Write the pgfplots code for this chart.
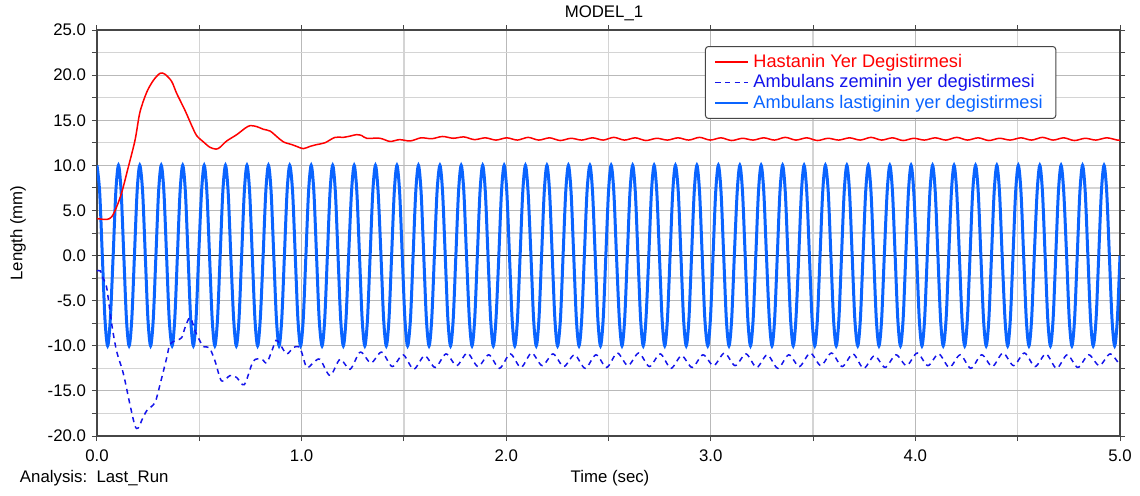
\documentclass[border=0pt]{standalone}
\usepackage{fontspec}
\setmainfont{Liberation Sans}
\usepackage{pgfplots}
\pgfplotsset{compat=1.18}

\definecolor{redline}{RGB}{255,0,0}
\definecolor{ground}{RGB}{20,20,235}
\definecolor{tyre}{RGB}{10,100,255}
\definecolor{gridgray}{RGB}{212,212,212}
\definecolor{framegray}{RGB}{70,70,70}

\begin{document}
\begin{tikzpicture}
\fontsize{8.4}{10}\selectfont
\path[use as bounding box] (-48.5pt,-29.5pt) rectangle (521.5pt,218pt);
\begin{axis}[
  scale only axis, width=511.5pt, height=203pt,
  at={(0pt,0pt)}, anchor=south west,
  xmin=0, xmax=5, ymin=-20, ymax=25,
  xtick={0,1,2,3,4,5}, minor xtick={0.5,1.5,2.5,3.5,4.5},
  ytick={-20,-15,...,25}, minor ytick={-17.5,-12.5,-7.5,-2.5,2.5,7.5,12.5,17.5,22.5},
  tick align=outside, major tick length=2.5pt, minor tick length=2.5pt,
  tick style={framegray, line width=0.5pt},
  grid=both,
  major grid style={gray!55, line width=0.5pt},
  minor grid style={gridgray, line width=0.7pt},
  extra y ticks={0}, extra y tick labels={},
  extra y tick style={grid=major, major grid style={black!80, line width=0.6pt}},
  axis line style={framegray, line width=0.6pt},
  /pgf/number format/assume math mode=true,
  /pgf/number format/fixed,
  /pgf/number format/fixed zerofill,
  /pgf/number format/precision=1,
  x tick label style={yshift=-1.2pt},
  tick label style={font=\fontsize{8.4}{10}\selectfont},
  legend style={at={(0.5943,0.9606)}, anchor=north west, draw=framegray,
    rounded corners=1.5pt, line width=0.5pt, font=\fontsize{9.1}{10}\selectfont,
    inner xsep=4.5pt, inner ysep=1.8pt, row sep=-1.6pt},
  legend cell align=left,
  legend image code/.code={\draw[#1] (0pt,0pt) -- (16.5pt,0pt);},
]
% tyre (solid blue), drawn first
\addplot[tyre, line width=1.5pt, smooth, tension=0.5, forget plot] coordinates {
(0,10)(0.013,7.07)(0.026,0)(0.039,-7.07)(0.052,-10)(0.065,-7.07)(0.079,0)(0.092,7.07)
(0.105,10)(0.118,7.07)(0.131,0)(0.144,-7.07)(0.157,-10)(0.170,-7.07)(0.183,0)(0.196,7.07)
(0.209,10)(0.223,7.07)(0.236,0)(0.249,-7.07)(0.262,-10)(0.275,-7.07)(0.288,0)(0.301,7.07)
(0.314,10)(0.327,7.07)(0.340,0)(0.353,-7.07)(0.367,-10)(0.380,-7.07)(0.393,0)(0.406,7.07)
(0.419,10)(0.432,7.07)(0.445,0)(0.458,-7.07)(0.471,-10)(0.484,-7.07)(0.497,0)(0.511,7.07)
(0.524,10)(0.537,7.07)(0.550,0)(0.563,-7.07)(0.576,-10)(0.589,-7.07)(0.602,0)(0.615,7.07)
(0.628,10)(0.641,7.07)(0.654,0)(0.668,-7.07)(0.681,-10)(0.694,-7.07)(0.707,0)(0.720,7.07)
(0.733,10)(0.746,7.07)(0.759,0)(0.772,-7.07)(0.785,-10)(0.798,-7.07)(0.812,0)(0.825,7.07)
(0.838,10)(0.851,7.07)(0.864,0)(0.877,-7.07)(0.890,-10)(0.903,-7.07)(0.916,0)(0.929,7.07)
(0.942,10)(0.956,7.07)(0.969,0)(0.982,-7.07)(0.995,-10)(1.008,-7.07)(1.021,0)(1.034,7.07)
(1.047,10)(1.060,7.07)(1.073,0)(1.086,-7.07)(1.100,-10)(1.113,-7.07)(1.126,0)(1.139,7.07)
(1.152,10)(1.165,7.07)(1.178,0)(1.191,-7.07)(1.204,-10)(1.217,-7.07)(1.230,0)(1.244,7.07)
(1.257,10)(1.270,7.07)(1.283,0)(1.296,-7.07)(1.309,-10)(1.322,-7.07)(1.335,0)(1.348,7.07)
(1.361,10)(1.374,7.07)(1.388,0)(1.401,-7.07)(1.414,-10)(1.427,-7.07)(1.440,0)(1.453,7.07)
(1.466,10)(1.479,7.07)(1.492,0)(1.505,-7.07)(1.518,-10)(1.532,-7.07)(1.545,0)(1.558,7.07)
(1.571,10)(1.584,7.07)(1.597,0)(1.610,-7.07)(1.623,-10)(1.636,-7.07)(1.649,0)(1.662,7.07)
(1.676,10)(1.689,7.07)(1.702,0)(1.715,-7.07)(1.728,-10)(1.741,-7.07)(1.754,0)(1.767,7.07)
(1.780,10)(1.793,7.07)(1.806,0)(1.820,-7.07)(1.833,-10)(1.846,-7.07)(1.859,0)(1.872,7.07)
(1.885,10)(1.898,7.07)(1.911,0)(1.924,-7.07)(1.937,-10)(1.950,-7.07)(1.964,0)(1.977,7.07)
(1.990,10)(2.003,7.07)(2.016,0)(2.029,-7.07)(2.042,-10)(2.055,-7.07)(2.068,0)(2.081,7.07)
(2.094,10)(2.107,7.07)(2.121,0)(2.134,-7.07)(2.147,-10)(2.160,-7.07)(2.173,0)(2.186,7.07)
(2.199,10)(2.212,7.07)(2.225,0)(2.238,-7.07)(2.251,-10)(2.265,-7.07)(2.278,0)(2.291,7.07)
(2.304,10)(2.317,7.07)(2.330,0)(2.343,-7.07)(2.356,-10)(2.369,-7.07)(2.382,0)(2.395,7.07)
(2.409,10)(2.422,7.07)(2.435,0)(2.448,-7.07)(2.461,-10)(2.474,-7.07)(2.487,0)(2.500,7.07)
(2.513,10)(2.526,7.07)(2.539,0)(2.553,-7.07)(2.566,-10)(2.579,-7.07)(2.592,0)(2.605,7.07)
(2.618,10)(2.631,7.07)(2.644,0)(2.657,-7.07)(2.670,-10)(2.683,-7.07)(2.697,0)(2.710,7.07)
(2.723,10)(2.736,7.07)(2.749,0)(2.762,-7.07)(2.775,-10)(2.788,-7.07)(2.801,0)(2.814,7.07)
(2.827,10)(2.841,7.07)(2.854,0)(2.867,-7.07)(2.880,-10)(2.893,-7.07)(2.906,0)(2.919,7.07)
(2.932,10)(2.945,7.07)(2.958,0)(2.971,-7.07)(2.985,-10)(2.998,-7.07)(3.011,0)(3.024,7.07)
(3.037,10)(3.050,7.07)(3.063,0)(3.076,-7.07)(3.089,-10)(3.102,-7.07)(3.115,0)(3.129,7.07)
(3.142,10)(3.155,7.07)(3.168,0)(3.181,-7.07)(3.194,-10)(3.207,-7.07)(3.220,0)(3.233,7.07)
(3.246,10)(3.259,7.07)(3.272,0)(3.286,-7.07)(3.299,-10)(3.312,-7.07)(3.325,0)(3.338,7.07)
(3.351,10)(3.364,7.07)(3.377,0)(3.390,-7.07)(3.403,-10)(3.416,-7.07)(3.430,0)(3.443,7.07)
(3.456,10)(3.469,7.07)(3.482,0)(3.495,-7.07)(3.508,-10)(3.521,-7.07)(3.534,0)(3.547,7.07)
(3.560,10)(3.574,7.07)(3.587,0)(3.600,-7.07)(3.613,-10)(3.626,-7.07)(3.639,0)(3.652,7.07)
(3.665,10)(3.678,7.07)(3.691,0)(3.704,-7.07)(3.718,-10)(3.731,-7.07)(3.744,0)(3.757,7.07)
(3.770,10)(3.783,7.07)(3.796,0)(3.809,-7.07)(3.822,-10)(3.835,-7.07)(3.848,0)(3.862,7.07)
(3.875,10)(3.888,7.07)(3.901,0)(3.914,-7.07)(3.927,-10)(3.940,-7.07)(3.953,0)(3.966,7.07)
(3.979,10)(3.992,7.07)(4.006,0)(4.019,-7.07)(4.032,-10)(4.045,-7.07)(4.058,0)(4.071,7.07)
(4.084,10)(4.097,7.07)(4.110,0)(4.123,-7.07)(4.136,-10)(4.150,-7.07)(4.163,0)(4.176,7.07)
(4.189,10)(4.202,7.07)(4.215,0)(4.228,-7.07)(4.241,-10)(4.254,-7.07)(4.267,0)(4.280,7.07)
(4.294,10)(4.307,7.07)(4.320,0)(4.333,-7.07)(4.346,-10)(4.359,-7.07)(4.372,0)(4.385,7.07)
(4.398,10)(4.411,7.07)(4.424,0)(4.438,-7.07)(4.451,-10)(4.464,-7.07)(4.477,0)(4.490,7.07)
(4.503,10)(4.516,7.07)(4.529,0)(4.542,-7.07)(4.555,-10)(4.568,-7.07)(4.581,0)(4.595,7.07)
(4.608,10)(4.621,7.07)(4.634,0)(4.647,-7.07)(4.660,-10)(4.673,-7.07)(4.686,0)(4.699,7.07)
(4.712,10)(4.725,7.07)(4.739,0)(4.752,-7.07)(4.765,-10)(4.778,-7.07)(4.791,0)(4.804,7.07)
(4.817,10)(4.830,7.07)(4.843,0)(4.856,-7.07)(4.869,-10)(4.883,-7.07)(4.896,0)(4.909,7.07)
(4.922,10)(4.935,7.07)(4.948,0)(4.961,-7.07)(4.974,-10)(4.987,-7.07)(5.000,0)
};
% patient displacement (red)
\addplot[redline, line width=0.75pt, smooth, tension=0.5] coordinates {
(0,4.1)(0.047,4.0)(0.072,4.3)(0.096,5.4)(0.121,7.0)(0.153,9.8)(0.186,12.8)(0.210,15.9)
(0.243,18.1)(0.275,19.4)(0.308,20.2)(0.332,20.1)(0.365,19.3)(0.389,18.0)(0.430,16.1)
(0.463,14.4)(0.487,13.3)(0.520,12.6)(0.552,12.0)(0.582,11.8)(0.601,12.0)(0.634,12.7)
(0.683,13.4)(0.723,14.1)(0.748,14.4)(0.780,14.3)(0.813,14.0)(0.846,13.8)(0.878,13.2)
(0.911,12.6)(0.952,12.3)(0.976,12.1)(1.008,11.85)(1.041,12.1)(1.074,12.3)(1.114,12.5)
(1.163,13.1)(1.204,13.1)(1.229,13.2)(1.269,13.4)(1.294,13.3)(1.318,13.0)(1.383,13.0)
(1.432,12.65)(1.479,12.85)(1.531,12.7)(1.584,13.05)(1.636,12.95)(1.689,13.2)(1.741,13.0)
(1.793,13.15)(1.845,12.85)(1.898,13.05)(1.950,12.8)(2.003,13.05)(2.055,12.8)(2.107,13.1)
(2.159,12.8)(2.212,13.05)(2.264,12.75)(2.317,13.0)(2.369,12.8)(2.422,13.05)(2.474,12.8)
(2.526,13.1)(2.578,12.8)(2.631,13.05)(2.683,12.75)(2.736,13.0)(2.788,12.8)(2.840,13.05)
(2.892,12.8)(2.945,13.1)(2.997,12.8)(3.050,13.05)(3.102,12.75)(3.155,13.0)(3.207,12.8)
(3.259,13.05)(3.311,12.8)(3.364,13.1)(3.416,12.8)(3.469,13.05)(3.521,12.75)(3.573,13.0)
(3.625,12.8)(3.678,13.05)(3.730,12.8)(3.783,13.1)(3.835,12.8)(3.888,13.05)(3.940,12.75)
(3.992,13.0)(4.044,12.8)(4.097,13.05)(4.149,12.8)(4.202,13.1)(4.254,12.8)(4.307,13.05)
(4.359,12.75)(4.411,13.0)(4.463,12.8)(4.516,13.05)(4.568,12.8)(4.621,13.1)(4.673,12.8)
(4.725,13.05)(4.777,12.75)(4.830,13.0)(4.882,12.8)(4.935,13.05)(4.987,12.8)(5.000,12.82)
};
\addlegendentry{\textcolor{redline}{Hastanin Yer Degistirmesi}}
% ambulance floor displacement (dashed)
\addplot[ground, line width=0.75pt, dash pattern=on 2.6pt off 2.2pt, smooth, tension=0.5] coordinates {
(0,-1.7)(0.016,-1.7)(0.031,-2.6)(0.047,-3.5)(0.072,-7.6)(0.096,-10.6)(0.129,-13.1)
(0.161,-16.5)(0.186,-18.9)(0.202,-19.1)(0.218,-18.3)(0.243,-17.2)(0.283,-16.3)(0.308,-14.3)
(0.341,-11.3)(0.357,-9.8)(0.389,-9.4)(0.414,-9.1)(0.430,-8.0)(0.451,-6.9)(0.463,-7.2)
(0.479,-8.3)(0.495,-9.1)(0.520,-10.1)(0.549,-10.2)(0.577,-11.7)(0.609,-13.9)(0.650,-13.3)
(0.682,-13.5)(0.720,-14.3)(0.764,-11.7)(0.805,-11.5)(0.829,-11.9)(0.854,-10.6)(0.875,-9.4)
(0.894,-9.8)(0.927,-10.9)(0.959,-10.2)(0.984,-10.1)(1.000,-10.7)(1.025,-12.4)(1.057,-11.9)
(1.090,-11.5)(1.139,-13.3)(1.188,-11.5)(1.237,-12.6)(1.287,-10.7)(1.339,-11.9)
(1.391,-10.7)(1.443,-12.3)(1.496,-11.0)(1.548,-12.6)(1.601,-11.1)(1.653,-12.4)
(1.706,-10.9)(1.758,-12.2)(1.810,-10.8)(1.862,-12.3)(1.915,-11.0)(1.967,-12.5)
(2.020,-10.9)(2.072,-12.4)(2.124,-10.8)(2.176,-12.2)(2.229,-10.9)(2.281,-12.3)
(2.334,-11.0)(2.386,-12.5)(2.439,-11.0)(2.491,-12.4)(2.543,-10.8)(2.595,-12.2)
(2.648,-10.8)(2.700,-12.3)(2.753,-10.9)(2.805,-12.5)(2.857,-11.1)(2.909,-12.4)
(2.962,-11.0)(3.014,-12.2)(3.067,-10.8)(3.119,-12.2)(3.172,-10.9)(3.224,-12.4)
(3.276,-11.0)(3.328,-12.5)(3.381,-11.0)(3.433,-12.3)(3.486,-10.8)(3.538,-12.2)
(3.590,-10.8)(3.642,-12.3)(3.695,-10.9)(3.747,-12.5)(3.800,-11.1)(3.852,-12.4)
(3.905,-11.0)(3.957,-12.2)(4.009,-10.8)(4.061,-12.2)(4.114,-10.9)(4.166,-12.4)
(4.219,-11.0)(4.271,-12.5)(4.324,-11.0)(4.376,-12.3)(4.428,-10.8)(4.480,-12.2)
(4.533,-10.8)(4.585,-12.3)(4.638,-10.9)(4.690,-12.5)(4.742,-11.0)(4.794,-12.4)
(4.847,-11.0)(4.899,-12.2)(4.952,-10.9)(5.000,-12.2)
};
\addlegendentry{\textcolor{ground}{Ambulans zeminin yer degistirmesi}}
\addlegendimage{tyre, line width=1pt}
\addlegendentry{\textcolor{tyre}{Ambulans lastiginin yer degistirmesi}}
\end{axis}
\node at (253.5pt,211.5pt) {MODEL\_1};
\node at (256.5pt,-21pt) {Time (sec)};
\node[anchor=west] at (-41.5pt,-21pt) {Analysis:\ \ Last\_Run};
\node[rotate=90] at (-39.5pt,101.5pt) {Length (mm)};
\end{tikzpicture}
\end{document}
